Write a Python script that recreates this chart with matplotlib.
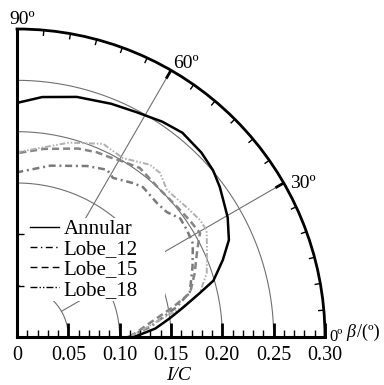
import numpy as np
import matplotlib
matplotlib.use("Agg")
import matplotlib.pyplot as plt
from matplotlib.lines import Line2D
from matplotlib.patches import Rectangle

plt.rcParams['font.family'] = ['Liberation Serif', 'DejaVu Serif']

# ---------------- data (theta in degrees, r = I/C) ----------------
series_names = ["Annular", "Lobe_12", "Lobe_15", "Lobe_18"]

annular_theta = [0, 3.5, 7, 10, 13.5, 16, 20.5, 24.6, 29.6, 33.5, 36.5, 40.4, 45, 51, 56, 62, 68, 76, 84, 90]
annular_r = [0.114, 0.135, 0.150, 0.164, 0.183, 0.199, 0.214, 0.227, 0.236, 0.241, 0.2457, 0.2507,
             0.254, 0.256, 0.253, 0.248, 0.245, 0.241, 0.235, 0.228]

lobe12_theta = [0, 4.3, 10.6, 14.6, 21.7, 28, 32.2, 36, 39.8, 43.7, 50, 53, 58.9, 61.7, 67.7, 79, 89, 90]
lobe12_r = [0.108, 0.130, 0.158, 0.174, 0.184, 0.194, 0.1956, 0.1965, 0.190, 0.1887, 0.1907, 0.1877,
            0.181, 0.185, 0.180, 0.170, 0.161, 0.160]

lobe15_theta = [0, 6, 10.9, 14.3, 19.8, 25.8, 29.6, 34, 39, 45.8, 54, 59.8, 62.7, 66.6, 72, 82, 90]
lobe15_r = [0.110, 0.130, 0.155, 0.174, 0.184, 0.195, 0.205, 0.203, 0.201, 0.200, 0.2035, 0.199,
            0.197, 0.196, 0.193, 0.185, 0.179]

lobe18_theta = [0, 6.8, 10.2, 13.5, 18.6, 24.6, 29.4, 32.6, 37.4, 44.4, 48.9, 52.3, 59.4, 66, 75, 90]
lobe18_r = [0.110, 0.140, 0.164, 0.183, 0.195, 0.2035, 0.212, 0.2115, 0.208, 0.2045, 0.212, 0.212,
            0.2025, 0.206, 0.196, 0.180]

r_ticks = [0, 0.05, 0.10, 0.15, 0.20, 0.25, 0.30]
r_tick_labels = ["0", "0.05", "0.10", "0.15", "0.20", "0.25", "0.30"]
grid_r = [0.05, 0.10, 0.15, 0.20, 0.25]
radial_angles = [30, 60]
minor_angles = [a for a in range(5, 90, 5) if a not in (30, 60)]
angle_labels = {90: "90º", 60: "60º", 30: "30º"}

# ---------------- figure ----------------
W, H = 384, 385
fig = plt.figure(figsize=(W / 100, H / 100), dpi=100)
ox, oy, side = 17, 337, 308
rect = [ox / W, (H - oy) / H, side / W, side / H]

ax = fig.add_axes(rect, projection='polar')
ax.set_thetamin(0)
ax.set_thetamax(90)
ax.set_rlim(0, 0.30)
ax.grid(False)
ax.set_yticks([])
ax.set_xticks([])
for s in ['start', 'end', 'inner']:
    if s in ax.spines:
        ax.spines[s].set_visible(False)
ax.spines['polar'].set_linewidth(2.0)

th = np.linspace(0, np.pi / 2, 300)
for rr in grid_r:
    ax.plot(th, np.full_like(th, rr), color='#707070', lw=0.8, zorder=1)
for a in radial_angles:
    ax.plot([np.deg2rad(a)] * 2, [0.05, 0.30], color='#707070', lw=0.8, zorder=1)
    ax.plot([np.deg2rad(a)] * 2, [0.292, 0.30], color='k', lw=2.0, zorder=2)
for a in minor_angles:
    ax.plot([np.deg2rad(a)] * 2, [0.295, 0.30], color='k', lw=1.0, zorder=2)

ax.plot(np.deg2rad(annular_theta), annular_r, color='k', lw=1.8, zorder=5)
ax.plot(np.deg2rad(lobe12_theta), lobe12_r, color='#7a7a7a', lw=1.8,
        ls=(0, (2.8, 1.5, 0.8, 1.5)), zorder=4)
ax.plot(np.deg2rad(lobe15_theta), lobe15_r, color='#858585', lw=1.8,
        ls=(0, (2.8, 1.6)), zorder=4)
ax.plot(np.deg2rad(lobe18_theta), lobe18_r, color='#b0b0b0', lw=1.4,
        ls=(0, (3, 1, 0.8, 1, 0.8, 1)), zorder=4)

# ---------------- cartesian overlay for straight axes ----------------
axc = fig.add_axes(rect)
axc.set_xlim(0, 0.30)
axc.set_ylim(0, 0.30)
axc.patch.set_alpha(0)
for s in ['top', 'right']:
    axc.spines[s].set_visible(False)
for s in ['bottom', 'left']:
    axc.spines[s].set_linewidth(2.2)
axc.set_xticks(r_ticks)
axc.set_xticklabels(r_tick_labels, fontsize=14.5)
axc.set_xticks(np.arange(0, 0.301, 0.01), minor=True)
axc.tick_params(axis='x', which='major', direction='in', length=10, width=2, pad=6.5)
axc.tick_params(axis='x', which='minor', direction='in', length=5, width=1)
axc.set_yticks([0.05, 0.10])
axc.set_yticklabels([])
axc.tick_params(axis='y', which='major', direction='in', length=5, width=1)

# white backing behind the legend (hides grid there, as in the original)
def px2ax(x, y):
    return (x - ox) / side, (oy - y) / side

bx0, by0 = px2ax(20, 301)
bx1, by1 = px2ax(165, 218)
axc.add_patch(Rectangle((bx0, by0), bx1 - bx0, by1 - by0, transform=axc.transAxes,
                        facecolor='white', edgecolor='none', zorder=0.5))

handles = [
    Line2D([], [], color='k', lw=1.0),
    Line2D([], [], color='k', lw=1.0, ls=(0, (5, 2.5, 1, 2.5))),
    Line2D([], [], color='k', lw=1.0, ls=(0, (5, 3))),
    Line2D([], [], color='k', lw=1.0, ls=(0, (5, 1.5, 1, 1.5, 1, 1.5))),
]
lx, ly = px2ax(30, 219.5)
leg = axc.legend(handles, series_names, loc='upper left', bbox_to_anchor=(lx, ly),
                 borderaxespad=0, borderpad=0, fontsize=15, frameon=False,
                 handlelength=1.4, handletextpad=0.2, labelspacing=0.03)

# ---------------- labels ----------------
def ftxt(x, y, s, **kw):
    fig.text(x / W, 1 - y / H, s, **kw)

ftxt(22, 24, angle_labels[90], ha='center', va='baseline', fontsize=14)
ftxt(173, 68, angle_labels[60], ha='left', va='baseline', fontsize=14)
ftxt(290, 188, angle_labels[30], ha='left', va='baseline', fontsize=14)
ftxt(329, 341, "0º", ha='left', va='baseline', fontsize=12)
ftxt(346, 337, "β", ha='left', va='baseline', fontsize=13, style='italic')
ftxt(357, 337, "/(º)", ha='left', va='baseline', fontsize=13)
ftxt(179, 376, "I/C", ha='center', va='center', fontsize=14, style='italic')

fig.savefig("out.png", dpi=100)
